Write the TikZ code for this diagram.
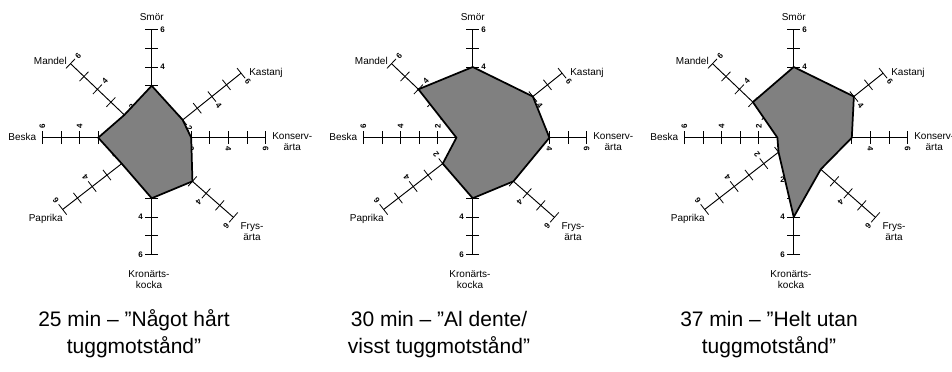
\documentclass[tikz,border=0pt]{standalone}
\usepackage{fontspec}
\setmainfont{Liberation Sans}
\usetikzlibrary{calc}
\begin{document}
\begin{tikzpicture}[x=0.75pt,y=0.75pt,
  axisline/.style={line width=0.7pt,draw=black},
  tickline/.style={line width=0.6pt,draw=black},
  poly/.style={fill={rgb,255:red,128;green,128;blue,128},draw=black,line width=1.3pt,line join=miter},
  numlab/.style={font=\fontsize{6}{7}\selectfont\bfseries,inner sep=0pt},
  axlab/.style={font=\fontsize{7.5}{8.3}\selectfont,inner sep=0pt,align=center},
  caption/.style={font=\fontsize{15.75}{20}\selectfont,inner sep=0pt,anchor=base}]
\useasboundingbox (0,0) rectangle (952,371);
\clip (0,0) rectangle (952,371);
\fill[white] (0,0) rectangle (952,371);
\foreach \c/\sx/\vals in {1/0/{2,2,3,2,3,2,3,3},2/321/{4,4,4,4,1,2,3,3},3/642/{3,4,4,3,1,1,4,2}}{
  \foreach \ax/\ang/\ox/\oy/\u/\lr [count=\i from 0] in {
      kon/0/154/233.3/18.6/-90,
      kas/38.7/153.5/227.7/18.7/-51.3,
      smo/90/151.7/229/18.75/0,
      man/136.4/151.3/230.4/18.6/46.4,
      bes/180/154/233.3/18.6/90,
      pap/217.8/151.3/230.3/18.7/127.8,
      kro/270/151.7/229/18.75/0,
      fry/318.7/151.4/225.7/18.2/228.7}{
    \coordinate (o\c-\ax) at (\ox+\sx,\oy);
    \pgfmathsetmacro\rr{6*\u}
    \coordinate (e\c-\ax) at ($(o\c-\ax)+(\ang:\rr)$);
    \draw[axisline] (o\c-\ax) -- (e\c-\ax);
    \foreach \k in {1,...,6}{
      \pgfmathsetmacro\rk{\k*\u}
      \draw[tickline] ($(o\c-\ax)+(\ang:\rk)+(\ang+90:6.5)$) -- ($(o\c-\ax)+(\ang:\rk)+(\ang-90:6.5)$);
    }
    \foreach \k in {2,4,6}{
      \pgfmathsetmacro\rk{\k*\u}
      \node[numlab,rotate=\lr] (n\c-\ax-\k) at ($(o\c-\ax)+(\ang:\rk)+(\ang-90:11)$) {\k};
    }
    \pgfmathsetmacro\vv{{\vals}[\i]}
    \pgfmathsetmacro\rv{\vv*\u}
    \coordinate (v\c-\ax) at ($(o\c-\ax)+(\ang:\rv)$);
  }
  \node[axlab] (smor\c) at (\sx+151.7,353.7) {Smör};
  \node[axlab,anchor=east] (mandel\c) at (\sx+67,310) {Mandel};
  \node[axlab,anchor=west] (kastanj\c) at (\sx+249,298.3) {Kastanj};
  \node[axlab,anchor=east] (beska\c) at (\sx+36.5,234) {Beska};
  \node[axlab,anchor=west] (konserv\c) at (\sx+272,229) {Konserv-\\ärta};
  \node[axlab] (frys\c) at (\sx+252,139.3) {Frys-\\ärta};
  \node[axlab] (kron\c) at (\sx+149,91.5) {Kronärts-\\kocka};
  \node[axlab,anchor=east] (paprika\c) at (\sx+63,152) {Paprika};
  \filldraw[poly] (v\c-kon) -- (v\c-kas) -- (v\c-smo) -- (v\c-man) -- (v\c-bes) -- (v\c-pap) -- (v\c-kro) -- (v\c-fry) -- cycle;
}
\node[caption] (cap1a) at (134,45) {25 min – ”Något hårt};
\node[caption] (cap1b) at (134,17) {tuggmotstånd”};
\node[caption] (cap2a) at (439,45) {30 min – ”Al dente/};
\node[caption] (cap2b) at (439,17) {visst tuggmotstånd”};
\node[caption] (cap3a) at (769,45) {37 min – ”Helt utan};
\node[caption] (cap3b) at (769,17) {tuggmotstånd”};
\end{tikzpicture}
\end{document}
